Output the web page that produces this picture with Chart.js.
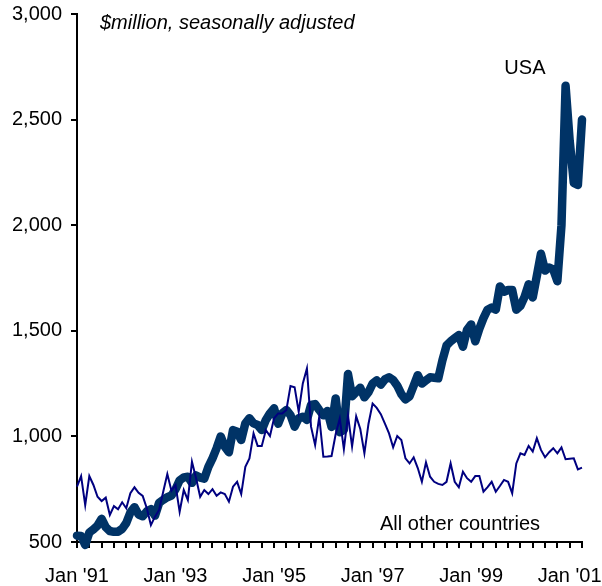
<!DOCTYPE html>
<html>
<head>
<meta charset="utf-8">
<script src="https://cdn.jsdelivr.net/npm/chart.js@4.4.1/dist/chart.umd.min.js"></script>
<style>
	html, body { margin: 0; padding: 0; background: #fff; }
	#wrap { width: 602px; height: 586px; }
</style>
</head>
<body>
<div id="wrap"><canvas id="statsChart" width="602" height="586"></canvas></div>
<script>
	// monthly values, Jan 1991 .. Apr 2001 ($million, seasonally adjusted)
	const usaValues = [
		530, 528, 486, 545, 560, 578, 610, 570, 552, 548, 549, 562,
		590, 640, 665, 630, 622, 645, 655, 625, 685, 700, 712, 720,
		750, 792, 806, 809, 780, 815, 805, 800, 856, 896, 944, 1000,
		951, 925, 1030, 1022, 983, 1062, 1086, 1062, 1054, 1030, 1078, 1109,
		1133, 1060, 1109, 1125, 1101, 1046, 1086, 1093, 1078, 1149, 1153, 1125,
		1100, 1120, 1045, 1180, 1020, 1030, 1295, 1190, 1210, 1230, 1185, 1210,
		1250, 1265, 1245, 1270, 1280, 1267, 1240, 1200, 1175, 1190, 1240, 1290,
		1250, 1265, 1280, 1278, 1275, 1360, 1430, 1450, 1465, 1480, 1425, 1505,
		1530, 1450, 1510, 1560, 1600, 1610, 1600, 1710, 1685, 1693, 1693, 1600,
		1618, 1660, 1720, 1658, 1760, 1865, 1785, 1800, 1790, 1735, 2000, 2660,
		2400, 2200, 2190, 2500
	];
	const otherValues = [
		762, 812, 675, 812, 770, 714, 694, 710, 628, 670, 655, 688,
		660, 731, 759, 733, 718, 660, 580, 620, 652, 738, 822, 743,
		770, 643, 746, 699, 880, 802, 714, 746, 727, 750, 719, 735,
		727, 691, 762, 785, 727, 856, 896, 1014, 955, 955, 1030, 1002,
		1086, 1109, 1109, 1125, 1239, 1233, 1117, 1251, 1322, 1046, 959, 1093,
		904, 905, 907, 1010, 1085, 940, 1100, 952, 1095, 1035, 920, 1060,
		1155, 1135, 1105, 1060, 1014, 948, 1002, 983, 896, 872, 901, 850,
		785, 877, 809, 785, 775, 770, 785, 872, 785, 759, 833, 802,
		785, 812, 812, 738, 760, 785, 738, 765, 794, 785, 731, 872,
		920, 912, 955, 928, 991, 936, 901, 925, 944, 920, 948, 892,
		894, 896, 844, 852
	];
	const tickLabels = ["Jan '91", "Jan '93", "Jan '95", "Jan '97", "Jan '99", "Jan '01"];
	const monthsPerLabel = 24;
	const monthsPerTick = 3;

	const fontFamily = '"Liberation Sans", Arial, sans-serif';

	// text notes on the plot
	const notes = {
		id: 'notes',
		afterDatasetsDraw(chart) {
			const { ctx, chartArea } = chart;
			const x = chart.scales.x, y = chart.scales.y;
			ctx.save();
			ctx.fillStyle = '#000';
			ctx.textBaseline = 'middle';
			ctx.textAlign = 'left';
			ctx.font = 'italic 20px ' + fontFamily;
			ctx.fillText('$million, seasonally adjusted', chartArea.left + 23, chartArea.top + 9);
			ctx.font = '20px ' + fontFamily;
			ctx.textAlign = 'center';
			ctx.fillText('USA', x.getPixelForValue(109.1), y.getPixelForValue(2740));
			ctx.fillText('All other countries', x.getPixelForValue(93.3), y.getPixelForValue(583));
			ctx.restore();
		}
	};

	const ctx = document.getElementById('statsChart').getContext('2d');
	const chart = new Chart(ctx, {
		type: 'line',
		data: {
			datasets: [{
				label: 'All other countries',
				data: otherValues.map((v, i) => ({ x: i, y: v })),
				borderColor: '#000080',
				borderWidth: 2,
				pointRadius: 0,
				tension: 0,
				clip: false
			}, {
				label: 'USA',
				data: usaValues.map((v, i) => ({ x: i, y: v })),
				borderColor: '#003366',
				borderWidth: 8.5,
				borderJoinStyle: 'round',
				borderCapStyle: 'round',
				pointRadius: 0,
				tension: 0,
				clip: false
			}]
		},
		options: {
			responsive: false,
			animation: false,
			layout: { padding: { top: 14, right: 20, bottom: 0, left: 0 } },
			plugins: {
				legend: { display: false },
				tooltip: { enabled: false }
			},
			scales: {
				x: {
					type: 'linear',
					min: 0,
					max: usaValues.length - 1,
					afterFit(scale) {
						scale.height = 44;
						scale.paddingLeft = 0;
						scale.paddingRight = 0;
					},
					border: { display: true, color: '#000', width: 2 },
					grid: { drawOnChartArea: false, drawTicks: true, tickLength: 6, color: '#000', lineWidth: 2 },
					ticks: {
						stepSize: monthsPerTick,
						autoSkip: false,
						maxRotation: 0,
						padding: 16,
						color: '#000',
						font: { family: fontFamily, size: 20 },
						callback: (v) => (v % monthsPerLabel === 0 ? tickLabels[v / monthsPerLabel] : '')
					}
				},
				y: {
					min: 500,
					max: 3000,
					afterFit(scale) {
						scale.width = 77;
						scale.paddingTop = 0;
						scale.paddingBottom = 0;
					},
					border: { display: true, color: '#000', width: 2 },
					grid: { drawOnChartArea: false, drawTicks: true, tickLength: 6, color: '#000', lineWidth: 2 },
					ticks: {
						stepSize: 500,
						padding: 9,
						color: '#000',
						font: { family: fontFamily, size: 20 },
						callback: (v) => v.toLocaleString('en-US')
					}
				}
			}
		},
		plugins: [notes]
	});
</script>
</body>
</html>
